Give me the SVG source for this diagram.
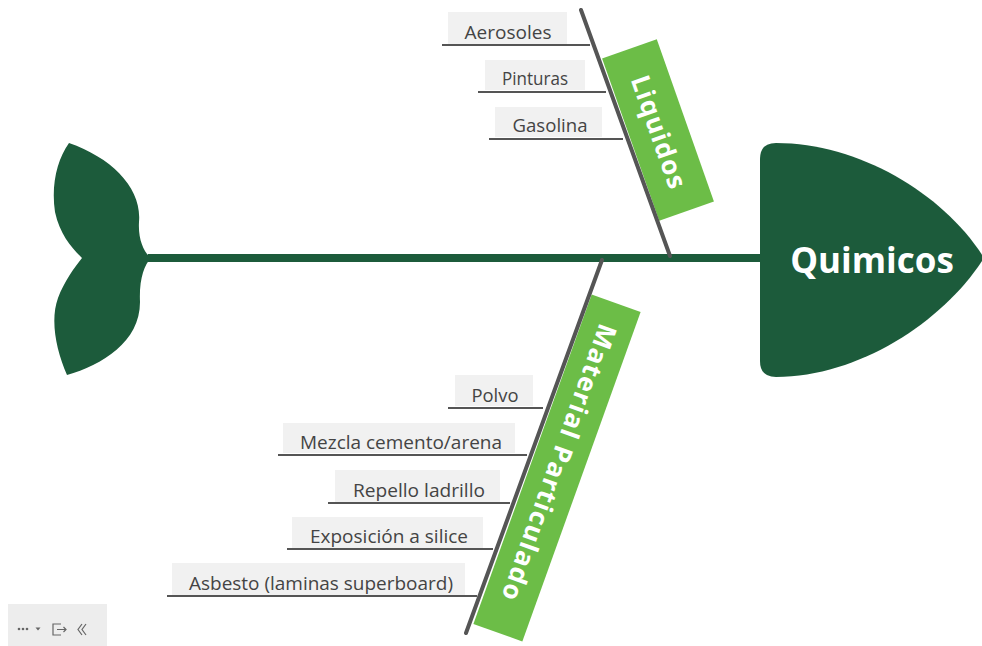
<svg xmlns="http://www.w3.org/2000/svg" width="982" height="646" viewBox="0 0 982 646">
<style>
.dark{fill:#1c5b3b}
.spine{stroke:#1c5b3b;stroke-width:8;fill:none}
.bone{stroke:#555;stroke-width:4;stroke-linecap:round;fill:none}
.sub{stroke:#555;stroke-width:2;fill:none}
.lbg{fill:#f1f1f1}
.lbl{font-family:"Open Sans","Noto Sans",sans-serif;font-size:19px;fill:#444;text-anchor:middle}
.cat{fill:#6cbd47}
.cattxt{font-family:"Open Sans","Noto Sans",sans-serif;font-size:26px;font-weight:bold;fill:#fff;text-anchor:middle}
.head{font-family:"Open Sans","Noto Sans",sans-serif;font-size:35px;font-weight:bold;fill:#fff;text-anchor:middle}
.tb{fill:#666}
</style>
<g id="connectors">
<line class="spine" x1="148" y1="258" x2="762" y2="258"/>
</g>
<g id="tail">
<path class="dark" d="M 69 143 C 112 158 142 188 139 222 C 138 240 144 252 151 258 C 144 265 139 280 140 302 C 140 342 102 365 67 375 C 56 350 50 320 58 298 C 64 282 74 268 82 258 C 72 248 60 235 55 212 C 51 185 57 160 69 143 Z"/>
</g>
<g id="head">
<path class="dark" d="M 776 143 C 860 143 945 195 984 258 C 945 320 860 377 776 377 Q 760 377 760 361 L 760 159 Q 760 143 776 143 Z"/>
<text class="head" x="872" y="273">Quimicos</text>
</g>
<g id="cat-liquidos">
<g transform="translate(658,130) rotate(70.6)">
<rect class="cat" x="-86" y="-29" width="172" height="58"/>
<text class="cattxt" x="2" y="9" textLength="118" lengthAdjust="spacing">Liquidos</text>
</g>
<line class="bone" x1="581" y1="10" x2="670" y2="256"/>
</g>
<g id="cat-material">
<g transform="translate(557,468) rotate(109.75)">
<rect class="cat" x="-175" y="-26" width="350" height="52"/>
<text class="cattxt" x="-6" y="9" textLength="292" lengthAdjust="spacing">Material Particulado</text>
</g>
<line class="bone" x1="602" y1="260" x2="466" y2="633"/>
</g>
<g id="aerosoles">
<rect class="lbg" x="448" y="12" width="119" height="32"/>
<line class="sub" x1="442" y1="45" x2="590" y2="45"/>
<text class="lbl" x="508" y="39" textLength="87" lengthAdjust="spacingAndGlyphs">Aerosoles</text>
</g>
<g id="pinturas">
<rect class="lbg" x="485" y="60" width="100" height="30"/>
<line class="sub" x1="478" y1="92" x2="606" y2="92"/>
<text class="lbl" x="535" y="85" textLength="66" lengthAdjust="spacingAndGlyphs">Pinturas</text>
</g>
<g id="gasolina">
<rect class="lbg" x="495" y="107" width="107" height="30"/>
<line class="sub" x1="489" y1="139" x2="623" y2="139"/>
<text class="lbl" x="550" y="132" textLength="75" lengthAdjust="spacingAndGlyphs">Gasolina</text>
</g>
<g id="polvo">
<rect class="lbg" x="455" y="375" width="78" height="31"/>
<line class="sub" x1="448" y1="408" x2="543" y2="408"/>
<text class="lbl" x="495" y="402" textLength="47" lengthAdjust="spacingAndGlyphs">Polvo</text>
</g>
<g id="mezcla">
<rect class="lbg" x="283" y="423" width="232" height="30"/>
<line class="sub" x1="278" y1="455" x2="527" y2="455"/>
<text class="lbl" x="401" y="449" textLength="202" lengthAdjust="spacingAndGlyphs">Mezcla cemento/arena</text>
</g>
<g id="repello">
<rect class="lbg" x="335" y="470" width="165" height="32"/>
<line class="sub" x1="328" y1="503" x2="510" y2="503"/>
<text class="lbl" x="419" y="497" textLength="132" lengthAdjust="spacingAndGlyphs">Repello ladrillo</text>
</g>
<g id="exposicion">
<rect class="lbg" x="292" y="517" width="191" height="31"/>
<line class="sub" x1="287" y1="549" x2="493" y2="549"/>
<text class="lbl" x="389" y="543" textLength="158" lengthAdjust="spacingAndGlyphs">Exposición a silice</text>
</g>
<g id="asbesto">
<rect class="lbg" x="172" y="563" width="293" height="32"/>
<line class="sub" x1="167" y1="596" x2="477" y2="596"/>
<text class="lbl" x="321" y="590" textLength="264" lengthAdjust="spacingAndGlyphs">Asbesto (laminas superboard)</text>
</g>
<g id="toolbar">
<rect x="8" y="604" width="99" height="42" fill="#ededed"/>
<circle class="tb" cx="19" cy="629" r="1.3"/>
<circle class="tb" cx="23" cy="629" r="1.3"/>
<circle class="tb" cx="27" cy="629" r="1.3"/>
<path class="tb" d="M 35.5 627.5 L 40.5 627.5 L 38 630.5 Z"/>
<path d="M 61 624 L 53 624 L 53 635 L 61 635 M 57 629.5 L 66 629.5 M 63.5 627 L 66 629.5 L 63.5 632" stroke="#666" stroke-width="1.2" fill="none"/>
<path d="M 82 624 L 78 629.5 L 82 635 M 86 624 L 82 629.5 L 86 635" stroke="#666" stroke-width="1.2" fill="none"/>
</g>
</svg>
